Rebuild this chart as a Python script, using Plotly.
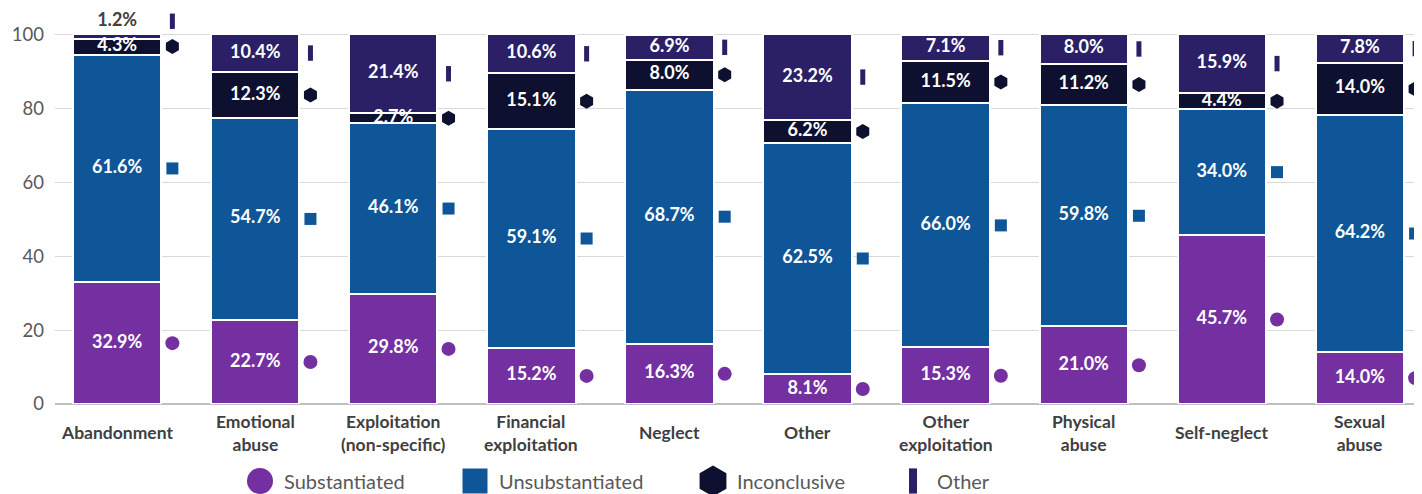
import plotly.graph_objects as go

categories = ["Abandonment", "Emotional<br>abuse", "Exploitation<br>(non-specific)", "Financial<br>exploitation",
              "Neglect", "Other", "Other<br>exploitation", "Physical<br>abuse", "Self-neglect", "Sexual<br>abuse"]
substantiated = [32.9, 22.7, 29.8, 15.2, 16.3, 8.1, 15.3, 21.0, 45.7, 14.0]
unsubstantiated = [61.6, 54.7, 46.1, 59.1, 68.7, 62.5, 66.0, 59.8, 34.0, 64.2]
inconclusive = [4.3, 12.3, 2.7, 15.1, 8.0, 6.2, 11.5, 11.2, 4.4, 14.0]
other = [1.2, 10.4, 21.4, 10.6, 6.9, 23.2, 7.1, 8.0, 15.9, 7.8]
series_names = ["Substantiated", "Unsubstantiated", "Inconclusive", "Other"]
series = [substantiated, unsubstantiated, inconclusive, other]
y_ticks = [0, 20, 40, 60, 80, 100]

colors = ["#7430A0", "#0E5697", "#0E1030", "#2B1F66"]
symbols = ["circle", "square", "hexagon", "line-ns"]
FONT = "Lato"

x = list(range(len(categories)))
fig = go.Figure()

# stacked bars
for name, vals, col in zip(series_names, series, colors):
    fig.add_trace(go.Bar(x=x, y=vals, name=name, width=0.64,
                         marker=dict(color=col, line=dict(color="white", width=2)),
                         showlegend=False, hoverinfo="skip"))
fig.update_layout(barmode="stack")

# segment midpoints
base = [0.0] * len(x)
lab_x, lab_y, lab_t, lab_c = [], [], [], []
for si, (vals, col, sym) in enumerate(zip(series, colors, symbols)):
    mids = []
    for i, v in enumerate(vals):
        m = base[i] + v / 2
        if v < 2:  # tiny segment: label and marker above bar
            m = base[i] + v + 3.5
            lab_c.append("#404040")
        else:
            lab_c.append("white")
        mids.append(m)
        lab_x.append(i)
        lab_y.append(m)
        lab_t.append(f"{v:.1f}%")
        base[i] += v
    if sym == "line-ns":
        mk = dict(symbol=sym, size=11, line=dict(color=col, width=5), color=col)
    elif sym == "hexagon":
        mk = dict(symbol=sym, size=15, color=col)
    elif sym == "square":
        mk = dict(symbol=sym, size=12, color=col)
    else:
        mk = dict(symbol=sym, size=14, color=col)
    fig.add_trace(go.Scatter(x=[i + 0.40 for i in x], y=mids, mode="markers", marker=mk,
                             showlegend=False, hoverinfo="skip", cliponaxis=False))

fig.add_trace(go.Scatter(x=lab_x, y=lab_y, mode="text", text=lab_t,
                         textfont=dict(family=FONT, size=18, color=lab_c, weight="bold"),
                         showlegend=False, hoverinfo="skip", cliponaxis=False))

# category labels
for i, c in enumerate(categories):
    fig.add_annotation(x=i, y=0.1266, xref="x", yref="paper", text=c, showarrow=False,
                       yanchor="middle", xanchor="center",
                       font=dict(family=FONT, size=17.5, color="#404040", weight="bold"))

# custom legend
leg_x = [260, 475, 713, 913]
leg_sizes = [26, 25, 31, 18]
for name, col, sym, lx, sz in zip(series_names, colors, symbols, leg_x, leg_sizes):
    if sym == "line-ns":
        mk = dict(symbol=sym, size=sz, line=dict(color=col, width=8), color=col)
    else:
        mk = dict(symbol=sym, size=sz, color=col)
    fig.add_trace(go.Scatter(x=[lx], y=[0.27], xaxis="x2", yaxis="y2", mode="markers",
                             marker=mk, showlegend=False, hoverinfo="skip", cliponaxis=False))
    fig.add_annotation(x=lx + 22, y=0.27, xref="x2", yref="y2", text=name, showarrow=False,
                       xanchor="left", yanchor="middle",
                       font=dict(family=FONT, size=20, color="#595959"))

fig.update_layout(
    width=1414, height=486,
    margin=dict(l=47, r=0, t=4, b=0, autoexpand=False),
    plot_bgcolor="white", paper_bgcolor="white",
    font=dict(family=FONT),
    xaxis=dict(range=[-0.45, 9.45], domain=[0, 1], showticklabels=False, showgrid=False,
               zeroline=False, showline=False),
    yaxis=dict(range=[0, 106], domain=[0.1867, 1], tickvals=y_ticks,
               gridcolor="#d9d9d9", gridwidth=1, zeroline=True, zerolinecolor="#bfbfbf",
               zerolinewidth=1.5, showline=False, ticks="", automargin=False,
               tickfont=dict(family=FONT, size=18.5, color="#595959"), ticklabelstandoff=10),
    xaxis2=dict(domain=[0, 1], range=[55, 1422], anchor="y2", visible=False),
    yaxis2=dict(domain=[0, 0.1], range=[0, 1], anchor="x2", visible=False),
)

fig.write_html("out.html")
